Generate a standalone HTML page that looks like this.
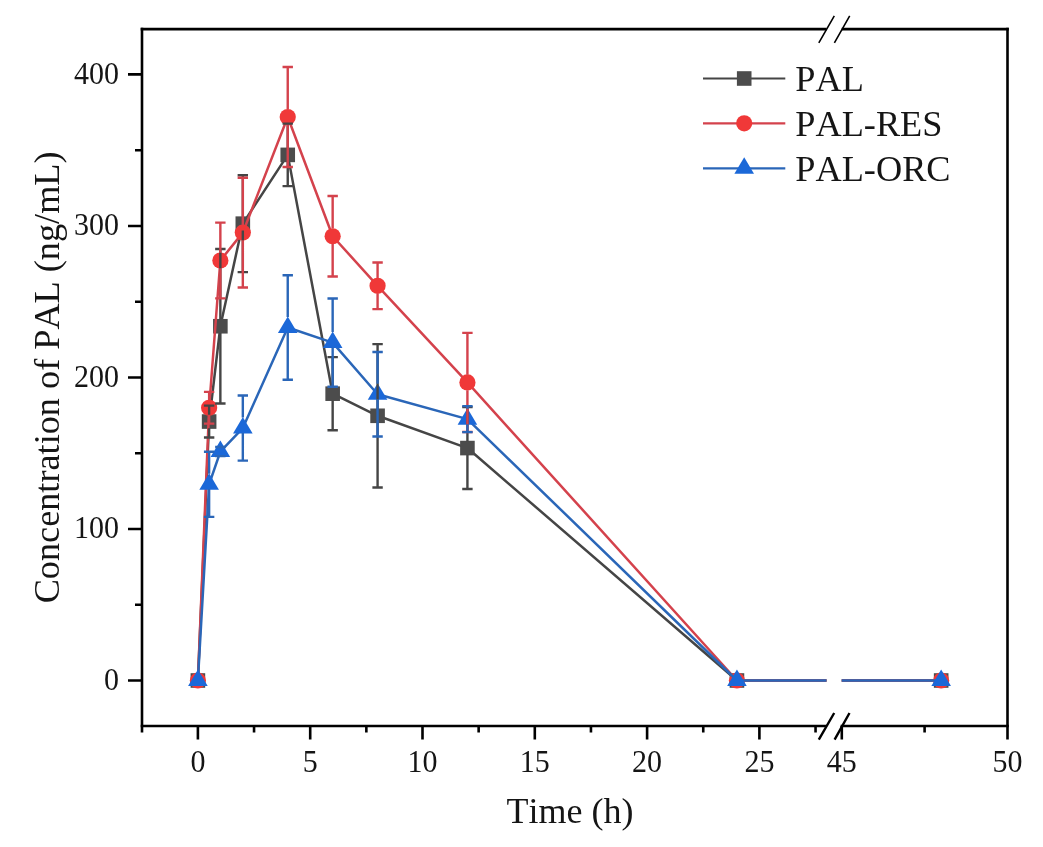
<!DOCTYPE html>
<html><head><meta charset="utf-8"><title>chart</title>
<style>
html,body{margin:0;padding:0;background:#fff;}
body{width:1043px;height:847px;overflow:hidden;font-family:"Liberation Serif",serif;}
svg{display:block;}
svg text{font-family:"Liberation Serif",serif;fill:#151515;font-kerning:none;}
svg{will-change:transform;}
</style></head><body>
<svg width="1043" height="847" viewBox="0 0 1043 847">
<rect width="1043" height="847" fill="#fff"/>
<g id="data">
<polyline points="197.90,680.50 209.13,421.55 220.36,326.25 242.82,223.67 287.74,154.88 332.66,393.67 377.58,415.79 467.42,448.07 736.94,680.50" fill="none" stroke="#454545" stroke-width="2.5" stroke-linejoin="round"/>
<path d="M736.94 680.5 H826.5 M841.7 680.5 H941.16" stroke="#454545" stroke-width="2.5" fill="none"/>
<rect x="190.60" y="673.20" width="14.6" height="14.6" fill="#4c4c4c"/>
<rect x="201.83" y="414.25" width="14.6" height="14.6" fill="#4c4c4c"/>
<rect x="213.06" y="318.95" width="14.6" height="14.6" fill="#4c4c4c"/>
<rect x="235.52" y="216.37" width="14.6" height="14.6" fill="#4c4c4c"/>
<rect x="280.44" y="147.58" width="14.6" height="14.6" fill="#4c4c4c"/>
<rect x="325.36" y="386.37" width="14.6" height="14.6" fill="#4c4c4c"/>
<rect x="370.28" y="408.49" width="14.6" height="14.6" fill="#4c4c4c"/>
<rect x="460.12" y="440.77" width="14.6" height="14.6" fill="#4c4c4c"/>
<rect x="729.64" y="673.20" width="14.6" height="14.6" fill="#4c4c4c"/>
<rect x="933.86" y="673.20" width="14.6" height="14.6" fill="#4c4c4c"/>
<polyline points="197.90,680.50 209.13,407.76 220.36,260.49 242.82,232.61 287.74,117.00 332.66,236.24 377.58,285.79 467.42,382.46 736.94,680.50" fill="none" stroke="#d4424c" stroke-width="2.5" stroke-linejoin="round"/>
<path d="M736.94 680.5 H826.5 M841.7 680.5 H941.16" stroke="#d4424c" stroke-width="2.5" fill="none"/>
<circle cx="197.90" cy="680.50" r="8.1" fill="#f03838"/>
<circle cx="209.13" cy="407.76" r="8.1" fill="#f03838"/>
<circle cx="220.36" cy="260.49" r="8.1" fill="#f03838"/>
<circle cx="242.82" cy="232.61" r="8.1" fill="#f03838"/>
<circle cx="287.74" cy="117.00" r="8.1" fill="#f03838"/>
<circle cx="332.66" cy="236.24" r="8.1" fill="#f03838"/>
<circle cx="377.58" cy="285.79" r="8.1" fill="#f03838"/>
<circle cx="467.42" cy="382.46" r="8.1" fill="#f03838"/>
<circle cx="736.94" cy="680.50" r="8.1" fill="#f03838"/>
<circle cx="941.16" cy="680.50" r="8.1" fill="#f03838"/>
<polyline points="197.90,680.50 209.13,484.28 220.36,451.55 242.82,428.07 287.74,327.46 332.66,342.61 377.58,394.28 467.42,419.13 736.94,680.50" fill="none" stroke="#2a66b8" stroke-width="2.5" stroke-linejoin="round"/>
<path d="M736.94 680.5 H826.5 M841.7 680.5 H941.16" stroke="#2a66b8" stroke-width="2.5" fill="none"/>
<polygon points="197.90,669.50 207.70,686.00 188.10,686.00" fill="#1b68d8"/>
<polygon points="209.13,473.28 218.93,489.78 199.33,489.78" fill="#1b68d8"/>
<polygon points="220.36,440.55 230.16,457.05 210.56,457.05" fill="#1b68d8"/>
<polygon points="242.82,417.07 252.62,433.57 233.02,433.57" fill="#1b68d8"/>
<polygon points="287.74,316.46 297.54,332.96 277.94,332.96" fill="#1b68d8"/>
<polygon points="332.66,331.61 342.46,348.11 322.86,348.11" fill="#1b68d8"/>
<polygon points="377.58,383.28 387.38,399.78 367.78,399.78" fill="#1b68d8"/>
<polygon points="467.42,408.13 477.22,424.63 457.62,424.63" fill="#1b68d8"/>
<polygon points="736.94,669.50 746.74,686.00 727.14,686.00" fill="#1b68d8"/>
<polygon points="941.16,669.50 950.96,686.00 931.36,686.00" fill="#1b68d8"/>
<path d="M209.13 405.64V414.75M209.13 428.35V437.46M203.93 405.64h10.4M203.93 437.46h10.4M220.36 248.97V319.45M220.36 333.05V403.52M215.16 248.97h10.4M215.16 403.52h10.4M242.82 175.18V216.87M242.82 230.47V272.15M237.62 175.18h10.4M237.62 272.15h10.4M287.74 123.66V148.08M287.74 161.68V186.09M282.54 123.66h10.4M282.54 186.09h10.4M332.66 357.16V386.87M332.66 400.47V430.19M327.46 357.16h10.4M327.46 430.19h10.4M377.58 344.13V408.99M377.58 422.59V487.46M372.38 344.13h10.4M372.38 487.46h10.4M467.42 407.16V441.27M467.42 454.87V488.98M462.22 407.16h10.4M462.22 488.98h10.4" stroke="#454545" stroke-width="2.4" fill="none"/>
<path d="M209.13 391.85V400.06M209.13 415.46V423.67M203.93 391.85h10.4M203.93 423.67h10.4M220.36 222.61V252.79M220.36 268.19V298.37M215.16 222.61h10.4M215.16 298.37h10.4M242.82 177.76V224.91M242.82 240.31V287.46M237.62 177.76h10.4M237.62 287.46h10.4M287.74 67.00V109.30M287.74 124.70V167.00M282.54 67.00h10.4M282.54 167.00h10.4M332.66 195.94V228.54M332.66 243.94V276.55M327.46 195.94h10.4M327.46 276.55h10.4M377.58 262.46V278.09M377.58 293.49V309.12M372.38 262.46h10.4M372.38 309.12h10.4M467.42 332.91V374.76M467.42 390.16V432.01M462.22 332.91h10.4M462.22 432.01h10.4" stroke="#d4424c" stroke-width="2.4" fill="none"/>
<path d="M209.13 451.70V473.78M209.13 489.28V516.86M203.93 451.70h10.4M203.93 516.86h10.4M215.16 447.01h10.4M215.16 456.10h10.4M242.82 395.49V417.57M242.82 433.07V460.64M237.62 395.49h10.4M237.62 460.64h10.4M287.74 275.18V316.96M287.74 332.46V379.73M282.54 275.18h10.4M282.54 379.73h10.4M332.66 298.52V332.11M332.66 347.61V386.70M327.46 298.52h10.4M327.46 386.70h10.4M377.58 352.00V383.78M377.58 399.28V436.55M372.38 352.00h10.4M372.38 436.55h10.4M467.42 406.10V408.63M467.42 424.13V432.16M462.22 406.10h10.4M462.22 432.16h10.4" stroke="#2a66b8" stroke-width="2.4" fill="none"/>
</g>
<g id="axes">
<path d="M142 27.8V732.4 M1007.5 27.8V739.6" stroke="#000" stroke-width="2.6" fill="none"/>
<path d="M140.7 29.1H826.5 M841.7 29.1H1008.8" stroke="#000" stroke-width="2.6" fill="none"/>
<path d="M140.7 726H826.5 M840.6 726H1008.8" stroke="#000" stroke-width="2.6" fill="none"/>
<path d="M818.8 42.8L834.3 15.8 M834.4 42.8L849.7 15.8" stroke="#000" stroke-width="1.6" fill="none"/>
<path d="M818.8 739.6L834.2 713 M834.6 739.6L849.5 713" stroke="#000" stroke-width="2.4" fill="none"/>
<path d="M128 680.50H142M128 528.98H142M128 377.46H142M128 225.94H142M128 74.42H142M135 604.74H142M135 453.22H142M135 301.70H142M135 150.18H142" stroke="#000" stroke-width="2.6" fill="none"/>
<path d="M197.90 726V739.6M310.20 726V739.6M422.50 726V739.6M534.80 726V739.6M647.10 726V739.6M759.40 726V739.6M841.80 726V739.6M254.05 726V732.4M366.35 726V732.4M478.65 726V732.4M590.95 726V732.4M703.25 726V732.4M815.55 726V732.4M924.60 726V732.4" stroke="#000" stroke-width="2.6" fill="none"/>
</g>
<g id="labels">
<text transform="translate(119.00 689.70) scale(1.0 1.05)" text-anchor="end" font-size="30">0</text>
<text transform="translate(119.00 538.18) scale(1.0 1.05)" text-anchor="end" font-size="30">100</text>
<text transform="translate(119.00 386.66) scale(1.0 1.05)" text-anchor="end" font-size="30">200</text>
<text transform="translate(119.00 235.14) scale(1.0 1.05)" text-anchor="end" font-size="30">300</text>
<text transform="translate(119.00 83.62) scale(1.0 1.05)" text-anchor="end" font-size="30">400</text>
<text transform="translate(197.90 772.00) scale(1.0 1.05)" text-anchor="middle" font-size="30">0</text>
<text transform="translate(310.20 772.00) scale(1.0 1.05)" text-anchor="middle" font-size="30">5</text>
<text transform="translate(422.50 772.00) scale(1.0 1.05)" text-anchor="middle" font-size="30">10</text>
<text transform="translate(534.80 772.00) scale(1.0 1.05)" text-anchor="middle" font-size="30">15</text>
<text transform="translate(647.10 772.00) scale(1.0 1.05)" text-anchor="middle" font-size="30">20</text>
<text transform="translate(759.40 772.00) scale(1.0 1.05)" text-anchor="middle" font-size="30">25</text>
<text transform="translate(841.80 772.00) scale(1.0 1.05)" text-anchor="middle" font-size="30">45</text>
<text transform="translate(1007.40 772.00) scale(1.0 1.05)" text-anchor="middle" font-size="30">50</text>
<text transform="translate(570.00 822.60) scale(1.0 1.0)" text-anchor="middle" font-size="36">Time (h)</text>
<text transform="translate(58.70 377.40) rotate(-90) scale(1.007 1.0)" text-anchor="middle" font-size="36">Concentration of PAL (ng/mL)</text>
</g>
<g id="legend">
<path d="M703 78.5H785.3" stroke="#454545" stroke-width="2.2"/>
<rect x="736.90" y="71.20" width="14.6" height="14.6" fill="#4c4c4c"/>
<text transform="translate(795.30 90.70) scale(1.037 1.0)" text-anchor="start" font-size="35">PAL</text>
<path d="M703 123.3H785.3" stroke="#d4424c" stroke-width="2.2"/>
<circle cx="744.20" cy="123.30" r="8.1" fill="#f03838"/>
<text transform="translate(795.30 135.50) scale(1.037 1.0)" text-anchor="start" font-size="35">PAL-RES</text>
<path d="M703 168.3H785.3" stroke="#2a66b8" stroke-width="2.2"/>
<polygon points="744.20,157.30 754.00,173.80 734.40,173.80" fill="#1b68d8"/>
<text transform="translate(795.30 180.50) scale(1.037 1.0)" text-anchor="start" font-size="35">PAL-ORC</text>
</g>
</svg>
</body></html>
